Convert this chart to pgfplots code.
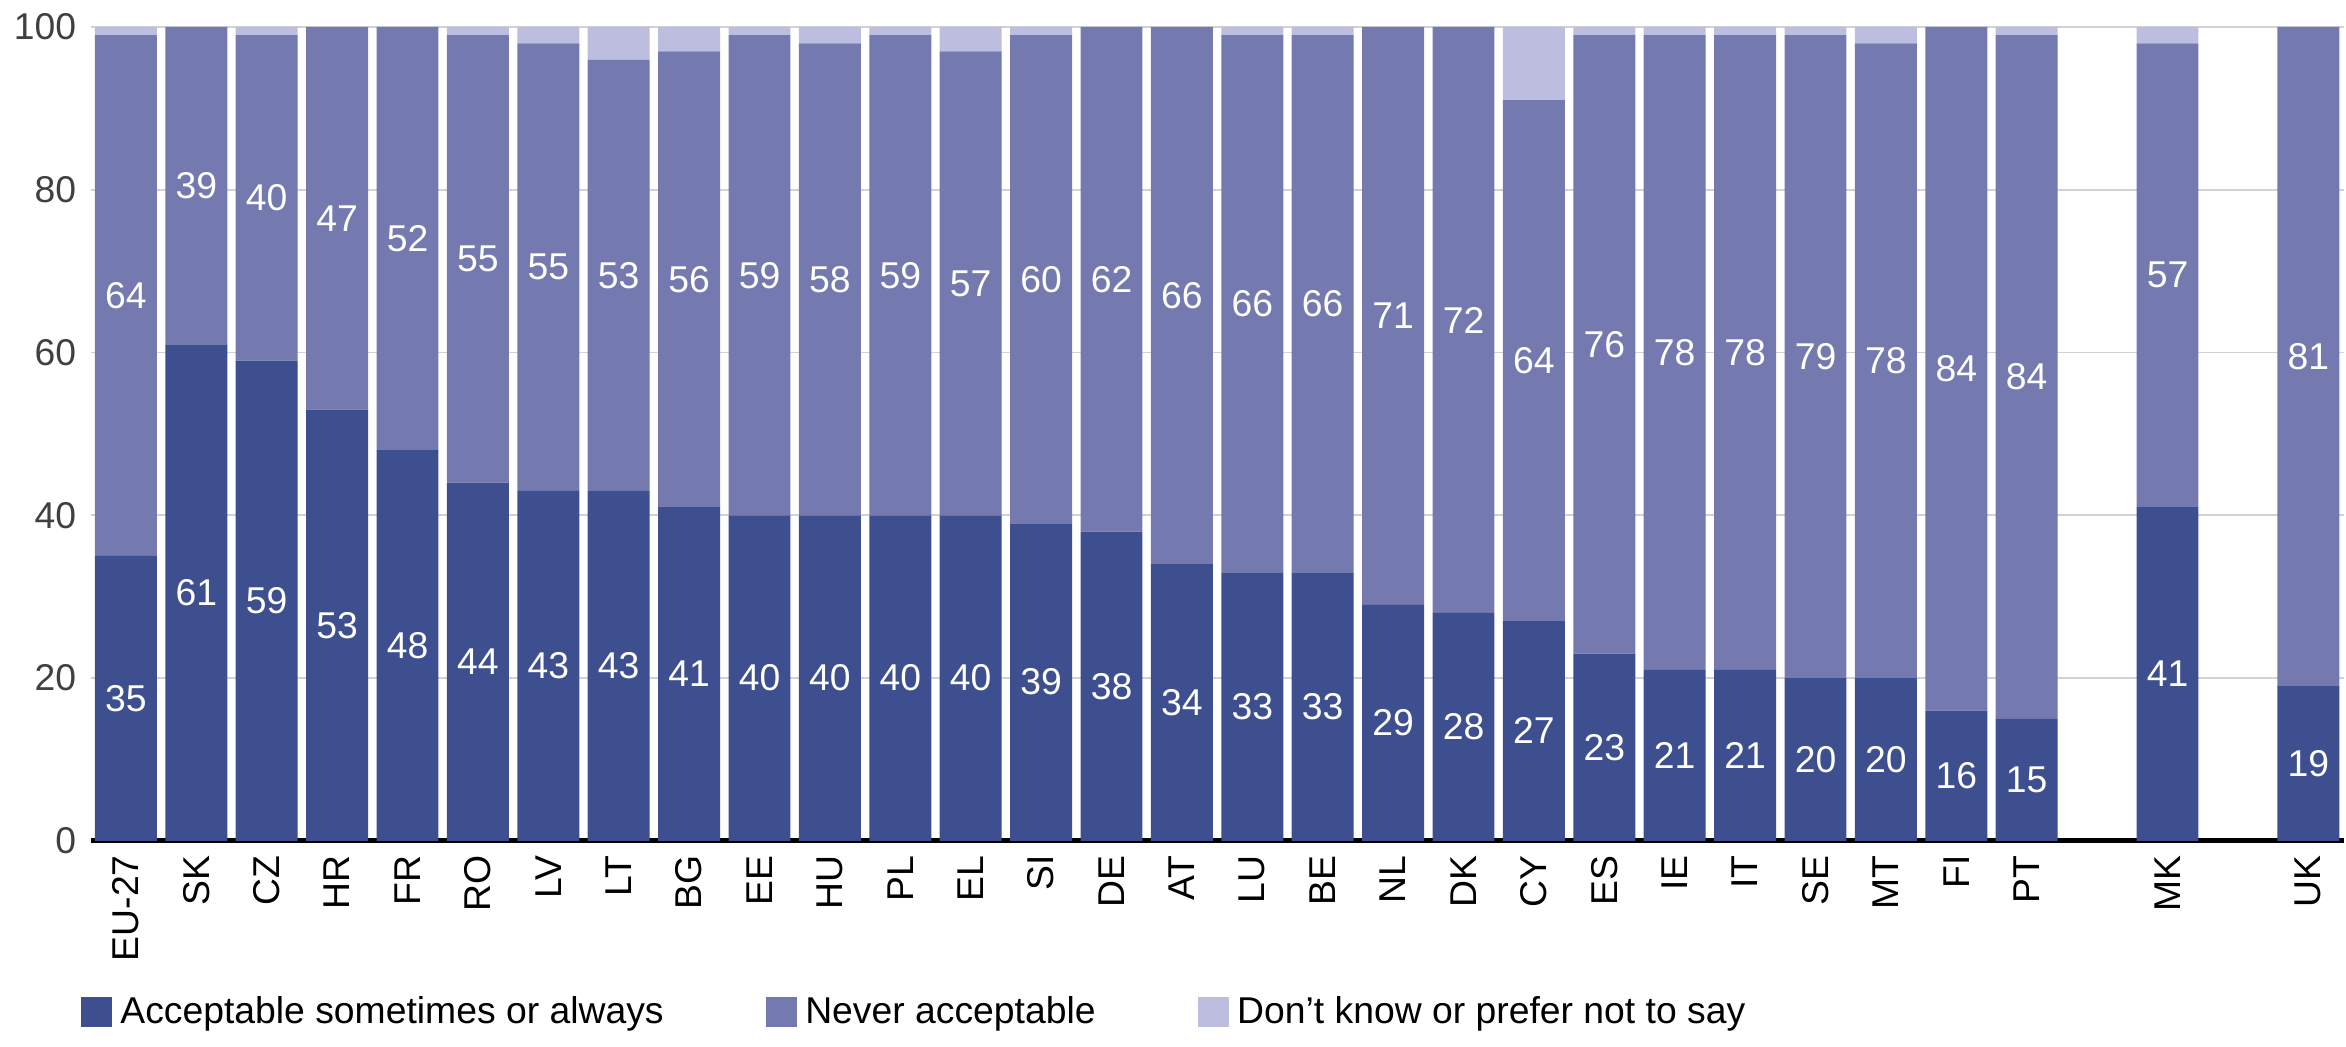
\documentclass[border=0pt]{standalone}
\usepackage{pgfplots}
\usepackage{pgfplotstable}
\pgfplotsset{compat=1.18}
\usepackage{fontspec}
\setmainfont{Liberation Sans}
\definecolor{cA}{HTML}{3D4F8F}
\definecolor{cN}{HTML}{7479B0}
\definecolor{cD}{HTML}{BDBDDF}
\pgfplotstableread{
x a n d
0 35 64 1
1 61 39 0
2 59 40 1
3 53 47 0
4 48 52 0
5 44 55 1
6 43 55 2
7 43 53 4
8 41 56 3
9 40 59 1
10 40 58 2
11 40 59 1
12 40 57 3
13 39 60 1
14 38 62 0
15 34 66 0
16 33 66 1
17 33 66 1
18 29 71 0
19 28 72 0
20 27 64 9
21 23 76 1
22 21 78 1
23 21 78 1
24 20 79 1
25 20 78 2
26 16 84 0
27 15 84 1
29 41 57 2
31 19 81 0
}\data
\begin{document}
\begin{tikzpicture}
\pgfplotsset{
  base/.style={scale only axis, width=19.1cm, height=6.9cm,
    xmin=-0.5, xmax=31.5, ymin=0, ymax=100}
}
\begin{axis}[base,
  ybar stacked, bar width=0.88,
  axis x line*=bottom, axis y line*=left,
  y axis line style={draw=none},
  x axis line style={line width=1.2pt},
  ytick={0,20,...,100}, ymajorgrids, grid style={gray!35},
  xtick={0,...,27,29,31},
  xticklabels={EU-27,SK,CZ,HR,FR,RO,LV,LT,BG,EE,HU,PL,EL,SI,DE,AT,LU,BE,NL,DK,CY,ES,IE,IT,SE,MT,FI,PT,MK,UK},
  x tick label style={rotate=90, anchor=east, font=\small},
  y tick label style={font=\small, text=black!75},
  /pgf/number format/assume math mode=true,
  major tick length=0pt,
  legend style={at={(-0.01,-0.17)}, anchor=north west, draw=none, legend columns=3,
    font=\small, /tikz/every even column/.append style={column sep=0.8cm}},
  legend image code/.code={\fill[#1] (0cm,-0.12cm) rectangle (0.26cm,0.14cm);},
]
\addplot[fill=cA, draw=none] table[x=x,y=a]{\data};
\addplot[fill=cN, draw=none] table[x=x,y=n]{\data};
\addplot[fill=cD, draw=none] table[x=x,y=d]{\data};
\legend{Acceptable sometimes or always, Never acceptable, Don't know or prefer not to say}
\end{axis}
\begin{axis}[base, hide axis]
\addplot[only marks, mark=none, nodes near coords, point meta=explicit,
  nodes near coords style={text=white, font=\small, anchor=center},
  /pgf/number format/assume math mode=true]
  table[x=x, y expr=\thisrow{a}/2, meta=a]{\data};
\addplot[only marks, mark=none, nodes near coords, point meta=explicit,
  nodes near coords style={text=white, font=\small, anchor=center},
  /pgf/number format/assume math mode=true]
  table[x=x, y expr=\thisrow{a}+\thisrow{n}/2, meta=n]{\data};
\end{axis}
\end{tikzpicture}
\end{document}
